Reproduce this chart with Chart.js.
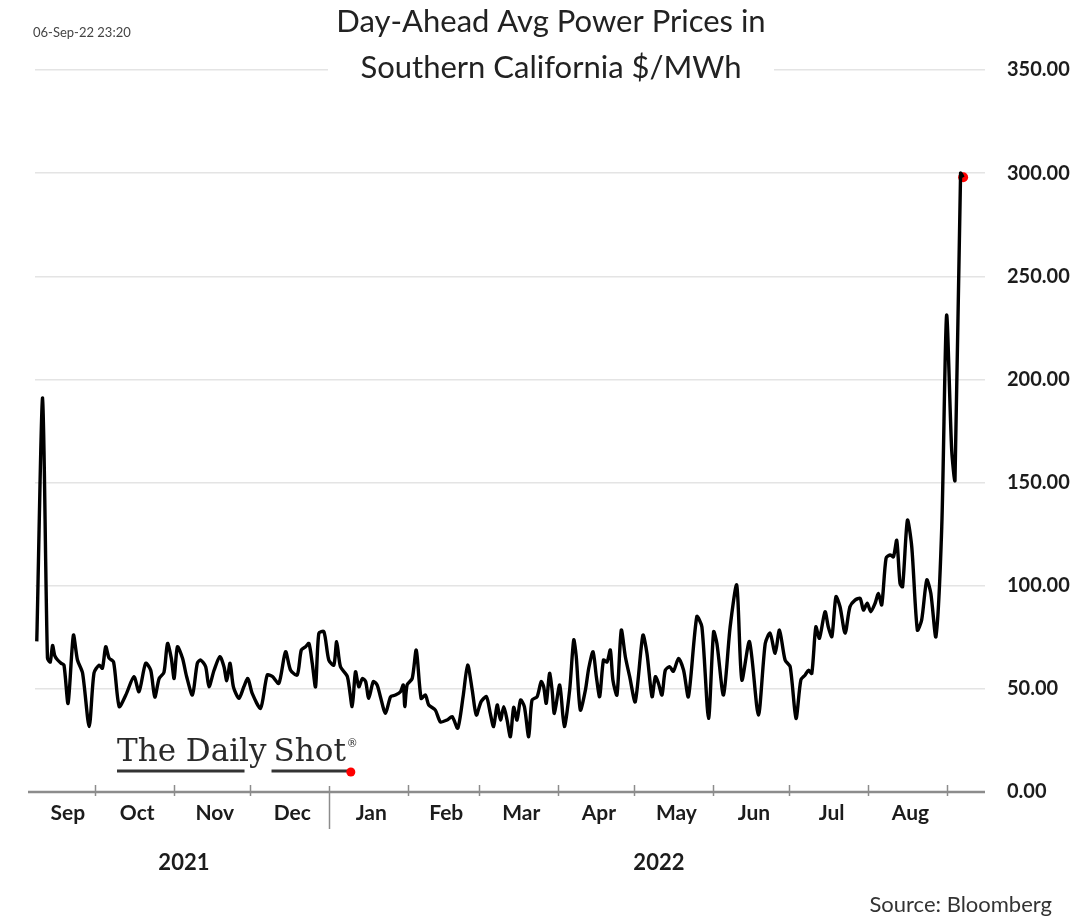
<!DOCTYPE html>
<html>
<head>
<meta charset="utf-8">
<script src="https://cdn.jsdelivr.net/npm/chart.js@4/dist/chart.umd.min.js"></script>
<style>
  html, body { margin: 0; padding: 0; background: #ffffff; }
  #wrap { width: 1081px; height: 917px; position: relative; }
</style>
</head>
<body>
<div id="wrap"><canvas id="chart" width="1081" height="917"></canvas></div>
<script>
// Day-ahead average power price, Southern California ($/MWh)
// x: days since 2021-09-01, y: price
const dayOffsets = [
  7.2, 9.5, 11.4, 12.5, 13.4, 14.3, 15.4, 16.7, 17.9, 19.5, 21.6, 23.2, 25.2, 27.8, 29.7,
  31.7, 33.0, 34.3, 35.6, 37.4, 39.6, 42.2, 45.4, 47.4, 50.0, 52.0, 53.6, 55.3, 57.2, 58.6,
  60.1, 61.2, 62.5, 64.5, 66.1, 68.4, 70.3, 71.6, 73.6, 74.9, 76.9, 79.2, 80.8, 81.9, 83.2,
  84.5, 86.7, 88.6, 90.2, 91.9, 95.2, 97.8, 99.8, 102.4, 105.0, 107.0, 109.6, 111.2, 112.9, 114.2,
  115.5, 116.8, 118.1, 120.1, 122.0, 124.0, 125.1, 126.6, 129.3, 131.2, 132.5, 133.8, 135.2, 136.5, 137.7,
  139.5, 141.0, 142.3, 144.3, 146.3, 148.2, 150.2, 151.3, 151.9, 152.8, 154.8, 156.4, 158.3, 160.0, 161.3,
  163.9, 165.9, 168.5, 170.5, 172.7, 174.8, 176.6, 178.4, 180.0, 181.9, 184.0, 185.5, 186.8, 188.2, 189.5,
  190.8, 192.1, 193.4, 194.7, 196.0, 197.4, 198.9, 200.6, 201.9, 203.9, 205.5, 206.5, 207.5, 208.8, 209.8,
  210.7, 212.8, 214.6, 216.7, 218.3, 219.3, 220.9, 222.9, 224.2, 225.9, 227.2, 228.5, 230.0, 231.4, 232.7,
  233.7, 235.3, 237.0, 238.6, 240.3, 242.5, 245.5, 247.1, 249.1, 250.4, 251.6, 253.0, 254.3, 256.0, 257.5,
  259.5, 261.5, 263.4, 266.7, 268.7, 271.3, 273.3, 274.6, 277.2, 279.8, 282.4, 284.4, 287.4, 290.9, 293.6,
  295.5, 297.5, 299.2, 301.4, 303.4, 305.7, 307.6, 309.3, 310.6, 311.9, 313.5, 314.9, 317.1, 318.4, 319.8,
  321.4, 323.0, 325.0, 326.9, 328.9, 330.9, 332.2, 333.7, 335.1, 336.8, 338.1, 339.4, 341.1, 342.7, 344.0,
  345.3, 346.6, 347.6, 349.5, 351.2, 353.4, 355.1, 357.1, 358.7, 360.7, 363.0, 364.9, 366.9, 368.2, 370.4,
  371.4
];
const prices = [
  73, 191, 65, 63, 71, 66, 64, 62.5, 61.5, 43, 76, 64, 57.7, 31.7, 57.7,
  61.5, 60, 70.4, 65, 63, 41.4, 47, 55.9, 48.6, 62.4, 59, 46, 55, 58, 72,
  64.8, 55, 70.4, 64.8, 56, 47, 62.4, 64, 60.7, 51, 59, 65.6, 60.7, 54, 62.4,
  51, 45.4, 51, 55, 47.8, 40.6, 56.7, 56, 52.7, 68, 59, 56.7, 68.8, 70.4, 72,
  62.4, 51, 77, 77.7, 64, 61.5, 72.9, 60.7, 56, 41.4, 58.3, 51, 55, 53.5, 45.4,
  53.5, 51.9, 46.2, 38.1, 46.2, 47, 48.6, 51.9, 41.4, 51.9, 55, 68.8, 45.4, 47, 42.2,
  39.7, 34, 34.9, 36.5, 30.9, 46.2, 61.5, 49.4, 37.3, 43.8, 46.2, 38.1, 31.7, 42.2, 34.9,
  41.4, 34.9, 26.8, 41, 34.9, 44.6, 41.4, 26.8, 44.6, 46.2, 53.5, 51, 43, 57.5, 49.4,
  38.1, 51.9, 31.7, 49.4, 73.7, 65.6, 39.7, 49.4, 60, 68, 55.9, 46.2, 64, 63, 68.8,
  54.3, 47, 78.5, 65.6, 55.9, 43.8, 76, 67.2, 46.2, 55.9, 52.7, 47, 59, 60.7, 58.5,
  64.8, 59, 46.2, 85, 80, 35.7, 77.7, 72, 47, 80, 100.3, 54.3, 72.9, 37.3, 72,
  77, 67.2, 78.5, 64, 60.7, 35.7, 54.3, 56.7, 59, 57.5, 80, 74.5, 87.4, 80, 75.3,
  94.7, 89.8, 77, 89.8, 93, 93.9, 88.2, 91.5, 87.4, 91.5, 96.3, 90.7, 113.3, 114.9, 114,
  122, 101, 99.5, 131.8, 118.9, 78.5, 83.4, 102.8, 96.3, 75.3, 128.6, 231, 165.8, 151.2, 300,
  298
];

// Month boundaries (days since 2021-09-01) and the month names placed between them
const monthStarts = [0, 30, 61, 91, 122, 153, 181, 212, 242, 273, 303, 334, 365];
const monthLabels = ['Sep', 'Oct', 'Nov', 'Dec', 'Jan', 'Feb', 'Mar', 'Apr', 'May', 'Jun', 'Jul', 'Aug'];
const yearLabels = ['2021', '2022'];
const yearBreak = 122; // 2022-01-01
const yTicks = [0, 50, 100, 150, 200, 250, 300, 350];

const X_MIN = 6.5, X_MAX = 380;

const series = dayOffsets.map((d, i) => ({ x: d, y: prices[i] }));
const lastPoint = [series[series.length - 1]];

const TEXT = '#1c1c1c';

const decorations = {
  id: 'decorations',
  afterDraw(chart) {
    const { ctx, chartArea } = chart;
    const xs = chart.scales.x;
    const ys = chart.scales.y;
    const axisY = ys.getPixelForValue(0);
    ctx.save();

    // bottom axis line
    ctx.strokeStyle = '#8c8c8c';
    ctx.lineWidth = 2.5;
    ctx.beginPath();
    ctx.moveTo(chartArea.left - 7, axisY);
    ctx.lineTo(chartArea.right, axisY);
    ctx.stroke();

    // month boundary ticks
    ctx.lineWidth = 1.5;
    monthStarts.forEach(d => {
      if (d <= X_MIN || d >= X_MAX) return;
      const px = Math.round(xs.getPixelForValue(d)) + 0.5;
      ctx.beginPath();
      if (d === yearBreak) {
        ctx.moveTo(px, axisY - 6);
        ctx.lineTo(px, axisY + 37);
      } else {
        ctx.moveTo(px, axisY - 7);
        ctx.lineTo(px, axisY + 4);
      }
      ctx.stroke();
    });

    // month names
    ctx.fillStyle = TEXT;
    ctx.textAlign = 'center';
    ctx.textBaseline = 'middle';
    ctx.font = 'bold 21px Lato';
    monthLabels.forEach((m, i) => {
      const a = xs.getPixelForValue(Math.max(monthStarts[i], X_MIN));
      const b = xs.getPixelForValue(monthStarts[i + 1]);
      ctx.fillText(m, (a + b) / 2 + 3, axisY + 21);
    });

    // years
    ctx.font = 'bold 22px Lato';
    const yb = xs.getPixelForValue(yearBreak);
    ctx.fillText(yearLabels[0], (chartArea.left + yb) / 2 + 2, axisY + 71);
    ctx.fillText(yearLabels[1], (yb + chartArea.right) / 2 + 2, axisY + 71);

    // title, on a white band over the top gridline
    ctx.fillStyle = '#ffffff';
    ctx.fillRect(328, 52, 446, 34);
    ctx.fillStyle = '#222222';
    ctx.font = '31px Lato';
    ctx.fillText('Day-Ahead Avg Power Prices in', 551, 22);
    ctx.fillText('Southern California $/MWh', 551, 68);

    // timestamp
    ctx.textAlign = 'left';
    ctx.font = '13px Lato';
    ctx.fillStyle = '#444444';
    ctx.fillText('06-Sep-22 23:20', 33, 33);

    // source
    ctx.textAlign = 'right';
    ctx.font = '22px Lato';
    ctx.fillStyle = '#333333';
    ctx.fillText('Source: Bloomberg', 1052, 905);

    // masthead
    ctx.textAlign = 'left';
    ctx.textBaseline = 'alphabetic';
    ctx.fillStyle = '#2a2a2a';
    ctx.font = '31px "DejaVu Serif"';
    const partA = 'The Daily';
    const partB = 'Shot';
    const gap = 7;
    const wA = ctx.measureText(partA).width;
    const wB = ctx.measureText(partB).width;
    const x0 = 117;
    const xB = x0 + wA + gap;
    ctx.fillText(partA, x0, 761);
    ctx.fillText(partB, xB, 761);
    ctx.font = '11px "DejaVu Serif"';
    ctx.fillText('®', xB + wB + 1, 747);
    ctx.strokeStyle = '#333333';
    ctx.lineWidth = 3;
    ctx.beginPath();
    ctx.moveTo(x0, 771); ctx.lineTo(x0 + wA - 22, 771);
    ctx.moveTo(xB - 2, 771); ctx.lineTo(xB + wB + 3, 771);
    ctx.stroke();
    ctx.fillStyle = '#ff0000';
    ctx.beginPath();
    ctx.arc(xB + wB + 5, 772, 4.5, 0, Math.PI * 2);
    ctx.fill();

    ctx.restore();
  }
};

new Chart(document.getElementById('chart'), {
  type: 'line',
  data: {
    datasets: [
      {
        data: series,
        borderColor: '#000000',
        borderWidth: 3.4,
        pointRadius: 0,
        tension: 0.25,
        fill: false
      },
      {
        data: lastPoint,
        showLine: false,
        pointRadius: 5,
        pointBackgroundColor: '#ff0000',
        pointBorderWidth: 0
      }
    ]
  },
  options: {
    responsive: false,
    animation: false,
    layout: { padding: { left: 35, top: 70, bottom: 125, right: 0 } },
    plugins: { legend: { display: false }, tooltip: { enabled: false }, title: { display: false } },
    scales: {
      x: {
        type: 'linear',
        min: X_MIN,
        max: X_MAX,
        display: false
      },
      y: {
        position: 'right',
        min: 0,
        max: 350,
        afterBuildTicks(scale) { scale.ticks = yTicks.map(v => ({ value: v })); },
        afterFit(scale) { scale.width = 96; },
        border: { display: false },
        grid: { color: '#e4e4e4', lineWidth: 1.5, drawTicks: false },
        ticks: {
          padding: 22,
          color: TEXT,
          font: { family: 'Lato', size: 20, weight: 'bold' },
          callback: v => v.toFixed(2)
        }
      }
    }
  },
  plugins: [decorations]
});
</script>
</body>
</html>
